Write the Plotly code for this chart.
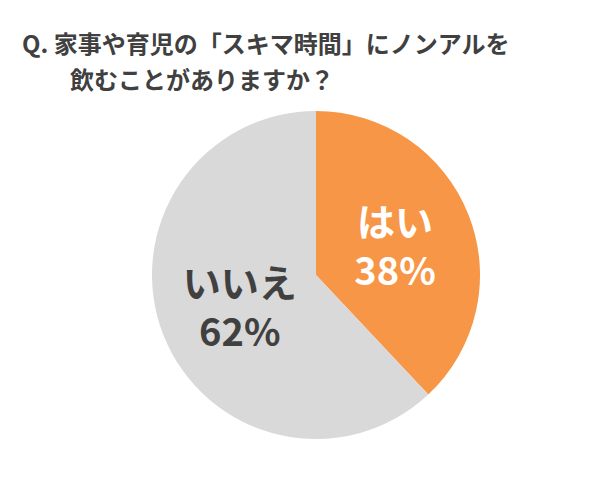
import plotly.graph_objects as go

labels = ["はい", "いいえ"]
values = [38, 62]
colors = ["#F79646", "#D9D9D9"]
text_colors = ["#FFFFFF", "#404040"]
title_line1 = "Q. 家事や育児の「スキマ時間」にノンアルを"
title_line2 = "飲むことがありますか？"

font = "Noto Sans CJK JP"
W, H = 616, 481

fig = go.Figure(go.Pie(
    labels=labels,
    values=values,
    sort=False,
    direction="clockwise",
    rotation=0,
    marker=dict(colors=colors, line=dict(width=0)),
    texttemplate="<b>%{label}<br>%{percent:.0%}</b>",
    textposition="inside",
    insidetextorientation="horizontal",
    textfont=dict(family=font, size=38, color=text_colors),
    hoverinfo="skip",
    showlegend=False,
    domain=dict(x=[144 / W, 472 / W], y=[50 / H, 378 / H]),
))

fig.add_annotation(text="<b>" + title_line1 + "</b>", x=12 / W, y=1 - 34 / H,
                   xref="paper", yref="paper", xanchor="left", yanchor="middle",
                   showarrow=False, font=dict(family=font, size=24, color="#404040"))
fig.add_annotation(text="<b>" + title_line2 + "</b>", x=60 / W, y=1 - 70 / H,
                   xref="paper", yref="paper", xanchor="left", yanchor="middle",
                   showarrow=False, font=dict(family=font, size=24, color="#404040"))

fig.update_layout(
    width=W, height=H,
    margin=dict(l=0, r=0, t=0, b=0),
    paper_bgcolor="white",
    plot_bgcolor="white",
)

fig.write_html("out.html")
